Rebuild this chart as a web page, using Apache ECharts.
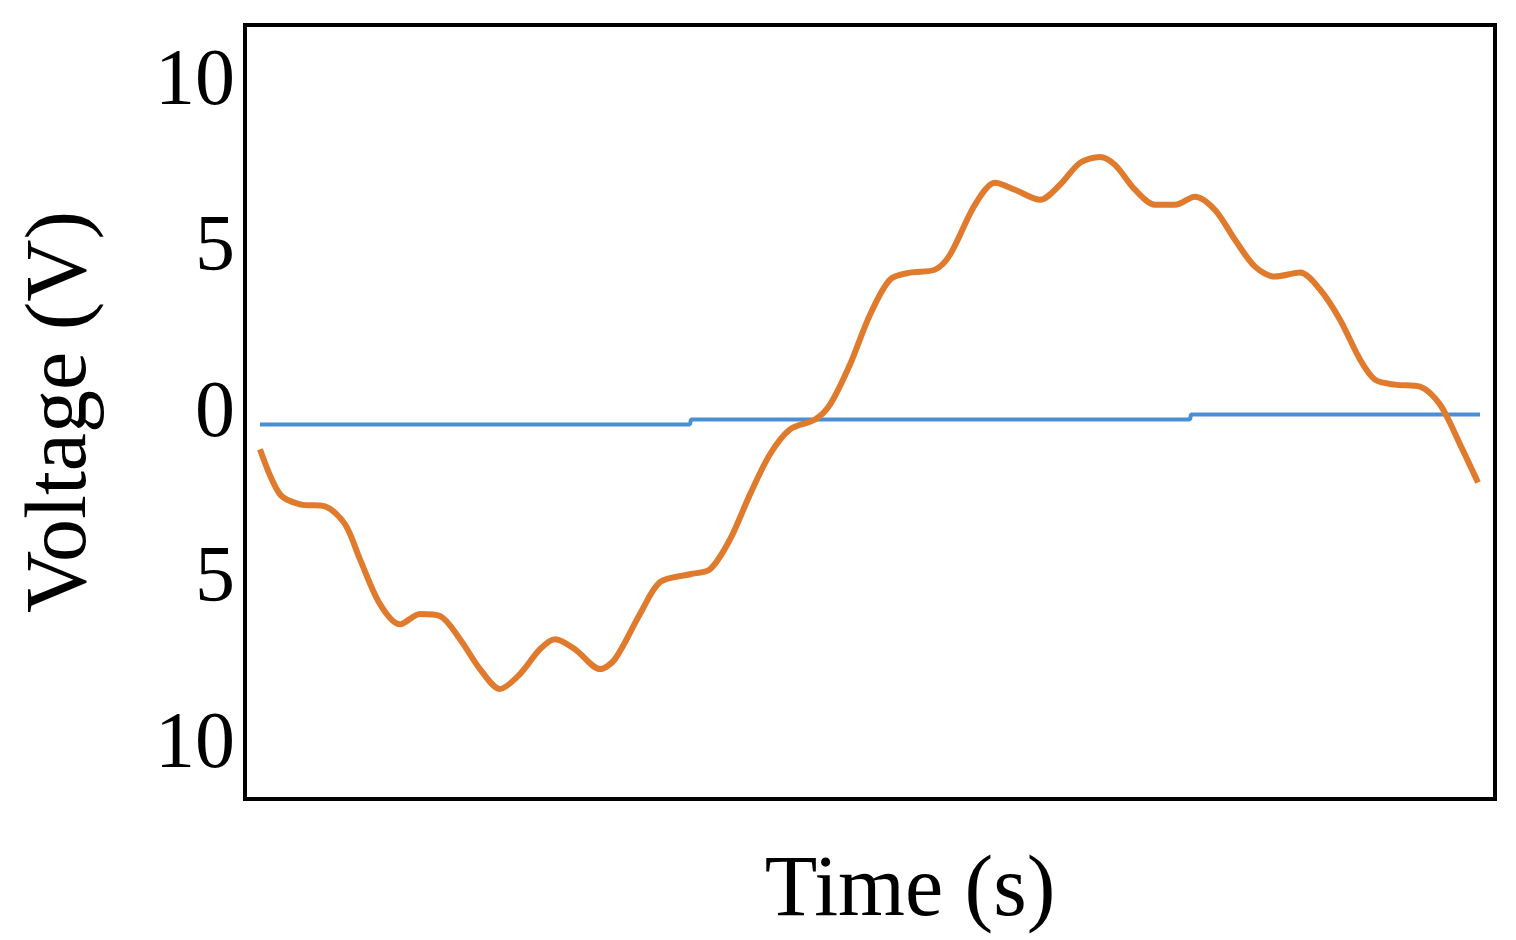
<!DOCTYPE html>
<html>
<head>
<meta charset="utf-8">
<title>Voltage vs Time</title>
<script src="https://cdn.jsdelivr.net/npm/echarts@6/dist/echarts.min.js"></script>
</head>
<body style="margin:0">
<div id="container" style="width:1516px;height:940px"></div>
<script>
// time (arbitrary units) and voltage
var timeVals = [0,20,40,65,85,100,120,140,160,180,200,220,240,260,280,295,315,340,355,380,400,430,450,470,490,510,530,555,570,590,610,630,650,675,690,715,735,755,780,800,820,840,855,875,895,915,935,955,975,995,1015,1040,1060,1080,1100,1115,1135,1160,1180,1200,1218];
var voltVals = [-1.05,-2.41,-2.71,-2.77,-3.31,-4.37,-5.72,-6.33,-6.02,-6.08,-6.78,-7.68,-8.28,-7.83,-7.08,-6.78,-7.08,-7.68,-7.38,-6.02,-5.06,-4.82,-4.67,-3.77,-2.41,-1.2,-0.45,-0.15,0.3,1.51,3.01,4.07,4.28,4.37,4.82,6.33,6.99,6.78,6.48,6.93,7.59,7.77,7.53,6.78,6.33,6.33,6.57,6.17,5.27,4.46,4.16,4.28,3.77,2.86,1.66,1.05,0.9,0.84,0.3,-0.9,-2.05];
var refTime = [0,430,431,930,931,1220];
var refVolt = [-0.3,-0.3,-0.15,-0.15,0,0];
var yTicks = [-10,-5,0,5,10];

var serif = 'Liberation Serif';
var chart = echarts.init(document.getElementById('container'));
chart.setOption({
    animation: false,
    grid: {left: 245, right: 21, top: 25, bottom: 139, show: true, borderColor: '#000', borderWidth: 4},
    xAxis: {
        type: 'value', min: -15, max: 1235,
        name: 'Time (s)', nameLocation: 'middle', nameGap: 50,
        nameTextStyle: {fontFamily: serif, fontSize: 86, color: '#000', padding: [0, 0, 0, 80]},
        axisLine: {show: false}, axisTick: {show: false}, axisLabel: {show: false}, splitLine: {show: false}
    },
    yAxis: {
        type: 'value', min: -11.6, max: 11.75,
        name: 'Voltage (V)', nameLocation: 'middle', nameGap: 140,
        nameTextStyle: {fontFamily: serif, fontSize: 86, color: '#000'},
        axisLine: {show: false}, axisTick: {show: false}, splitLine: {show: false},
        axisLabel: {
            customValues: yTicks, margin: 10,
            fontFamily: serif, fontSize: 80, color: '#000',
            formatter: function (v) { return String(Math.abs(v)); }
        }
    },
    series: [
        {type: 'line', data: refTime.map(function (t, i) { return [t, refVolt[i]]; }),
         showSymbol: false, lineStyle: {color: '#4a8fd4', width: 4}},
        {type: 'line', data: timeVals.map(function (t, i) { return [t, voltVals[i]]; }),
         showSymbol: false, smooth: 0.3, lineStyle: {color: '#e07b2e', width: 6}}
    ]
});
</script>
</body>
</html>
